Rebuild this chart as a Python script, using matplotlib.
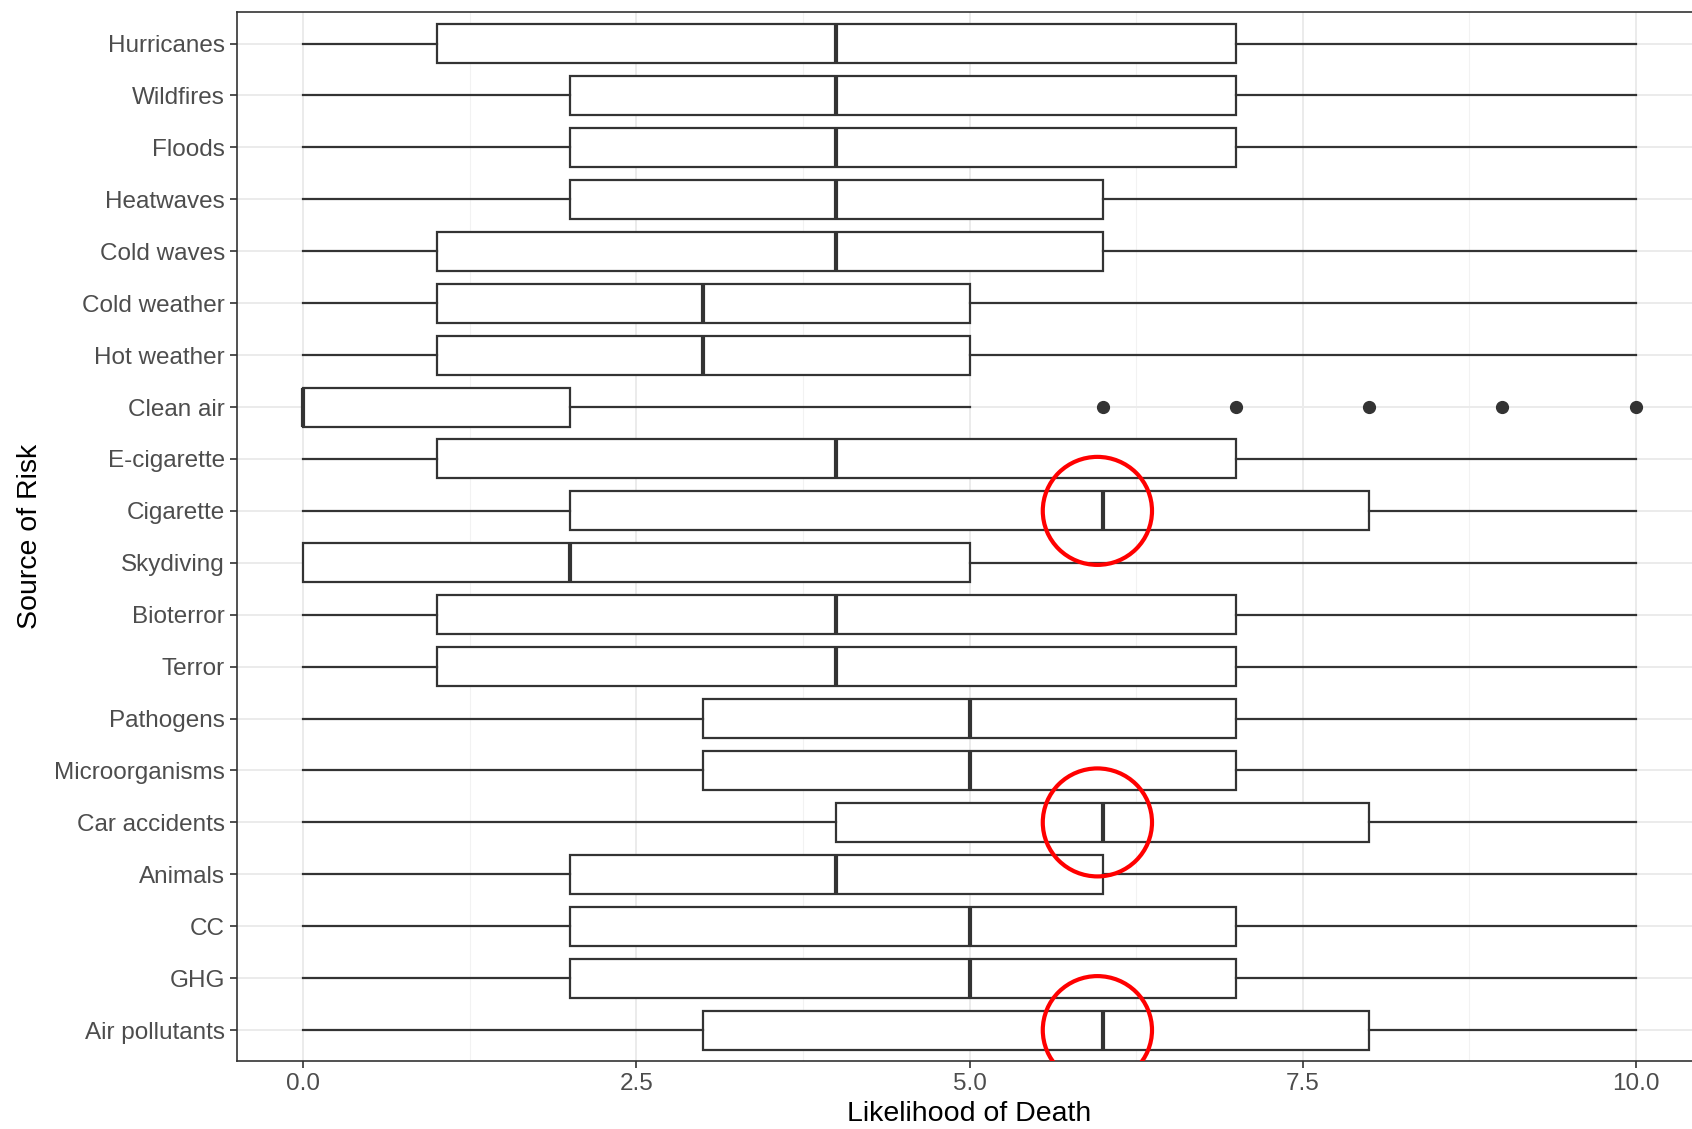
import numpy as np
import matplotlib
matplotlib.use("Agg")
import matplotlib.pyplot as plt
from matplotlib.patches import Ellipse

plt.rcParams['font.family'] = ['Liberation Sans', 'DejaVu Sans']

# top to bottom
risks = ["Hurricanes", "Wildfires", "Floods", "Heatwaves", "Cold waves",
         "Cold weather", "Hot weather", "Clean air", "E-cigarette", "Cigarette",
         "Skydiving", "Bioterror", "Terror", "Pathogens", "Microorganisms",
         "Car accidents", "Animals", "CC", "GHG", "Air pollutants"]
whis_lo = [0, 0, 0, 0, 0, 0, 0, 0, 0, 0, 0, 0, 0, 0, 0, 0, 0, 0, 0, 0]
q1 = [1, 2, 2, 2, 1, 1, 1, 0, 1, 2, 0, 1, 1, 3, 3, 4, 2, 2, 2, 3]
median = [4, 4, 4, 4, 4, 3, 3, 0, 4, 6, 2, 4, 4, 5, 5, 6, 4, 5, 5, 6]
q3 = [7, 7, 7, 6, 6, 5, 5, 2, 7, 8, 5, 7, 7, 7, 7, 8, 6, 7, 7, 8]
whis_hi = [10, 10, 10, 10, 10, 10, 10, 5, 10, 10, 10, 10, 10, 10, 10, 10, 10, 10, 10, 10]
outliers = {"Clean air": [6, 7, 8, 9, 10]}
circled = ["Cigarette", "Car accidents", "Air pollutants"]
circle_x = 5.96

n = len(risks)
ypos = np.arange(n, 0, -1)

stats = []
for i, r in enumerate(risks):
    stats.append({"label": r, "whislo": whis_lo[i], "q1": q1[i], "med": median[i],
                  "q3": q3[i], "whishi": whis_hi[i], "fliers": outliers.get(r, [])})

fig = plt.figure(figsize=(16.92, 11.29), dpi=100)
ax = fig.add_axes([0.140, 0.060, 0.866, 0.929])

# ggplot theme_bw style grid
for v in [1.25, 3.75, 6.25, 8.75]:
    ax.axvline(v, color="#F2F2F2", lw=0.8, zorder=0)
for v in [0, 2.5, 5, 7.5, 10]:
    ax.axvline(v, color="#EBEBEB", lw=1.4, zorder=0)
for y in ypos:
    ax.axhline(y, color="#EBEBEB", lw=1.4, zorder=0)

line = dict(color="#333333", lw=1.6)
ax.bxp(stats, positions=ypos, widths=0.75, orientation="horizontal",
       showcaps=False, patch_artist=True,
       boxprops=dict(facecolor="white", edgecolor="#333333", lw=1.6),
       whiskerprops=line,
       medianprops=dict(color="#333333", lw=3.0),
       flierprops=dict(marker="o", markerfacecolor="#333333",
                       markeredgecolor="#333333", markersize=8.5))

for r in circled:
    y = ypos[risks.index(r)]
    ax.add_patch(Ellipse((circle_x, y), 0.82, 2.08, fill=False,
                         edgecolor="red", lw=3, zorder=5))

ax.set_xlim(-0.5, 10.5)
ax.set_ylim(0.4, n + 0.6)
ax.set_xticks([0, 2.5, 5, 7.5, 10])
ax.set_xticklabels(["0.0", "2.5", "5.0", "7.5", "10.0"])
ax.set_yticks(ypos)
ax.set_yticklabels(risks)
ax.tick_params(axis="both", labelsize=17.5, labelcolor="#4D4D4D",
               color="#333333", length=5, width=1.2)
for s in ax.spines.values():
    s.set_color("#333333")
    s.set_linewidth(1.2)

ax.set_xlabel("Likelihood of Death", fontsize=20.5, labelpad=4)
ax.set_ylabel("Source of Risk", fontsize=20.5, labelpad=8)

fig.savefig("out.png", dpi=100)
